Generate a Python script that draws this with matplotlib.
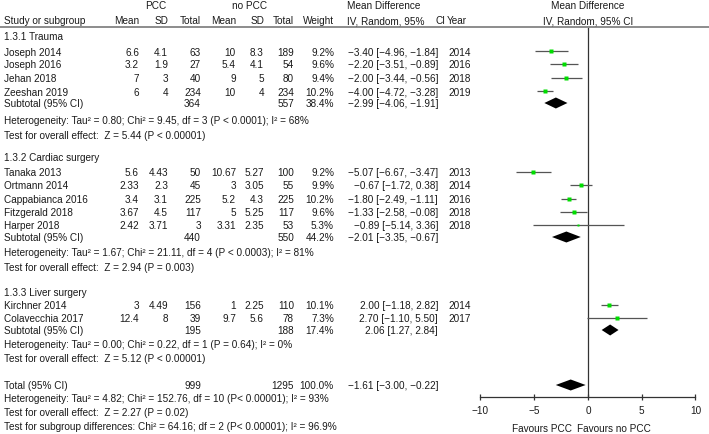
import numpy as np
import matplotlib
matplotlib.use("Agg")
import matplotlib.pyplot as plt

plt.rcParams["font.family"] = ["Liberation Sans", "DejaVu Sans"]
plt.rcParams["font.size"] = 7.2

# ── data ─────────────────────────────────────────────────────────────
groups = ["1.3.1 Trauma", "1.3.2 Cardiac surgery", "1.3.3 Liver surgery"]

study = ["Joseph 2014", "Joseph 2016", "Jehan 2018", "Zeeshan 2019",
         "Tanaka 2013", "Ortmann 2014", "Cappabianca 2016", "Fitzgerald 2018",
         "Harper 2018", "Kirchner 2014", "Colavecchia 2017"]
pcc_mean = ["6.6", "3.2", "7", "6", "5.6", "2.33", "3.4", "3.67", "2.42", "3", "12.4"]
pcc_sd = ["4.1", "1.9", "3", "4", "4.43", "2.3", "3.1", "4.5", "3.71", "4.49", "8"]
pcc_n = [63, 27, 40, 234, 50, 45, 225, 117, 3, 156, 39]
ctl_mean = ["10", "5.4", "9", "10", "10.67", "3", "5.2", "5", "3.31", "1", "9.7"]
ctl_sd = ["8.3", "4.1", "5", "4", "5.27", "3.05", "4.3", "5.25", "2.35", "2.25", "5.6"]
ctl_n = [189, 54, 80, 234, 100, 55, 225, 117, 53, 110, 78]
weight = [9.2, 9.6, 9.4, 10.2, 9.2, 9.9, 10.2, 9.6, 5.3, 10.1, 7.3]
ci_text = ["−3.40 [−4.96, −1.84]", "−2.20 [−3.51, −0.89]", "−2.00 [−3.44, −0.56]",
           "−4.00 [−4.72, −3.28]", "−5.07 [−6.67, −3.47]", "−0.67 [−1.72, 0.38]",
           "−1.80 [−2.49, −1.11]", "−1.33 [−2.58, −0.08]", "−0.89 [−5.14, 3.36]",
           "2.00 [−1.18, 2.82]", "2.70 [−1.10, 5.50]"]
year = [2014, 2016, 2018, 2019, 2013, 2014, 2016, 2018, 2018, 2014, 2017]
# drawn estimates / CI ends as seen on the plot
md = [-3.40, -2.20, -2.00, -4.00, -5.07, -0.67, -1.80, -1.33, -0.89, 2.00, 2.70]
ci_lo = [-4.96, -3.51, -3.44, -4.72, -6.67, -1.72, -2.49, -2.58, -5.14, 1.18, -0.10]
ci_hi = [-1.84, -0.89, -0.56, -3.28, -3.47, 0.38, -1.11, -0.08, 3.36, 2.82, 5.50]

sub_pcc_n = [364, 440, 195]
sub_ctl_n = [557, 550, 188]
sub_weight = ["38.4%", "44.2%", "17.4%"]
sub_ci_text = ["−2.99 [−4.06, −1.91]", "−2.01 [−3.35, −0.67]", "2.06 [1.27, 2.84]"]
sub_md = [-2.99, -2.01, 2.06]
sub_lo = [-4.06, -3.35, 1.27]
sub_hi = [-1.91, -0.67, 2.84]
sub_het = ["Heterogeneity: Tau² = 0.80; Chi² = 9.45, df = 3 (P < 0.0001); I² = 68%",
           "Heterogeneity: Tau² = 1.67; Chi² = 21.11, df = 4 (P < 0.0003); I² = 81%",
           "Heterogeneity: Tau² = 0.00; Chi² = 0.22, df = 1 (P = 0.64); I² = 0%"]
sub_test = ["Test for overall effect:  Z = 5.44 (P < 0.00001)",
            "Test for overall effect:  Z = 2.94 (P = 0.003)",
            "Test for overall effect:  Z = 5.12 (P < 0.00001)"]

tot_pcc_n, tot_ctl_n, tot_weight = 999, 1295, "100.0%"
tot_ci_text = "−1.61 [−3.00, −0.22]"
tot_md, tot_lo, tot_hi = -1.61, -3.00, -0.22
tot_notes = ["Heterogeneity: Tau² = 4.82; Chi² = 152.76, df = 10 (P< 0.00001); I² = 93%",
             "Test for overall effect:  Z = 2.27 (P = 0.02)",
             "Test for subgroup differences: Chi² = 64.16; df = 2 (P< 0.00001); I² = 96.9%"]

ticks = [-10, -5, 0, 5, 10]

# ── layout (pixel rows, .5 = pixel centre) ───────────────────────────
W, H = 709, 435
title_y = [37, 158, 293]
study_y = [52.5, 65.5, 79.5, 92.5, 173.5, 186.5, 200.5, 213.5, 226.5, 306.5, 319.5]
sub_y = [104, 238, 331]
het_y = [121, 253, 345]
test_y = [136, 268, 359]
tot_y = 386
tot_note_y = [399, 413, 427]

# column x (right edge for numbers)
X_NAME, X_PM, X_PSD, X_PN, X_CM, X_CSD, X_CN, X_W = 4, 139, 168, 201, 236, 264, 294, 334
X_CI, X_YEAR = 438, 448
AX_L, AX_R, AX_B, AX_T = 480.5, 695.5, 398, 28

TXT = "#1a1a1a"
fig = plt.figure(figsize=(W / 100, H / 100), dpi=100)

# -- forest axes (y in pixel rows)
ax = fig.add_axes([AX_L / W, (H - AX_B) / H, (AX_R - AX_L) / W, (AX_B - AX_T) / H])
ax.set_xlim(-10, 10)
ax.set_ylim(AX_B, AX_T)
for s in ("left", "right", "top"):
    ax.spines[s].set_visible(False)
ax.spines["bottom"].set_color("#333333")
ax.spines["bottom"].set_linewidth(0.9)
ax.set_yticks([])
ax.set_xticks(ticks)
ax.set_xticklabels([str(t).replace("-", "−") for t in ticks])
ax.tick_params(axis="x", direction="inout", length=5, width=0.9, color="#333333",
               pad=3.5, labelcolor=TXT, labelsize=7.2)
ax.axvline(0, color="#333333", lw=0.9)
ax.patch.set_visible(False)

for i in range(len(study)):
    ax.plot([ci_lo[i], ci_hi[i]], [study_y[i], study_y[i]], color="#555555", lw=0.9,
            solid_capstyle="butt", zorder=2)
    ax.plot(md[i], study_y[i], marker="s", ms=2.2 if weight[i] > 6 else 1.7,
            color="#00dd00", mec="none", ls="none", zorder=3)

def diamond(m, lo, hi, y, h=5.5):
    ax.fill([lo, m, hi, m], [y, y - h, y, y + h], color="black", lw=0)

for g in range(3):
    diamond(sub_md[g], sub_lo[g], sub_hi[g], sub_y[g])
diamond(tot_md, tot_lo, tot_hi, tot_y)

# -- text axes (pixel coordinates)
tx = fig.add_axes([0, 0, 1, 1])
tx.set_xlim(0, W)
tx.set_ylim(H, 0)
tx.axis("off")
tx.patch.set_visible(False)

def t(x, y, s, ha="left", **kw):
    tx.text(x, y, s, ha=ha, va="center", color=TXT, **kw)

t(572, 429, "Favours PCC", ha="right")
t(577, 429, "Favours no PCC")

# headers
t(156, 6, "PCC", ha="center")
t(250, 6, "no PCC", ha="center")
t(347, 6, "Mean Difference")
t(588, 6, "Mean Difference", ha="center")
t(X_NAME, 21, "Study or subgroup")
for x, s in [(X_PM, "Mean"), (X_PSD, "SD"), (X_PN, "Total"), (X_CM, "Mean"),
             (X_CSD, "SD"), (X_CN, "Total"), (X_W, "Weight")]:
    t(x, 21, s, ha="right")
t(347, 21, "IV, Random, 95%")
t(436, 21, "CI")
t(447, 21, "Year")
t(588, 21, "IV, Random, 95% CI", ha="center")
tx.plot([0, W], [AX_T, AX_T], color="#8c8c8c", lw=1.4)

for g in range(3):
    t(X_NAME, title_y[g], groups[g])
    t(X_NAME, sub_y[g], "Subtotal (95% CI)")
    t(X_PN, sub_y[g], str(sub_pcc_n[g]), ha="right")
    t(X_CN, sub_y[g], str(sub_ctl_n[g]), ha="right")
    t(X_W, sub_y[g], sub_weight[g], ha="right")
    t(X_CI, sub_y[g], sub_ci_text[g], ha="right")
    t(X_NAME, het_y[g], sub_het[g])
    t(X_NAME, test_y[g], sub_test[g])

for i in range(len(study)):
    y = study_y[i]
    t(X_NAME, y, study[i])
    t(X_PM, y, pcc_mean[i], ha="right")
    t(X_PSD, y, pcc_sd[i], ha="right")
    t(X_PN, y, str(pcc_n[i]), ha="right")
    t(X_CM, y, ctl_mean[i], ha="right")
    t(X_CSD, y, ctl_sd[i], ha="right")
    t(X_CN, y, str(ctl_n[i]), ha="right")
    t(X_W, y, f"{weight[i]:.1f}%", ha="right")
    t(X_CI, y, ci_text[i], ha="right")
    t(X_YEAR, y, str(year[i]))

t(X_NAME, tot_y, "Total (95% CI)")
t(X_PN, tot_y, str(tot_pcc_n), ha="right")
t(X_CN, tot_y, str(tot_ctl_n), ha="right")
t(X_W, tot_y, tot_weight, ha="right")
t(X_CI, tot_y, tot_ci_text, ha="right")
for y, s in zip(tot_note_y, tot_notes):
    t(X_NAME, y, s)

fig.savefig("out.png", dpi=100)
